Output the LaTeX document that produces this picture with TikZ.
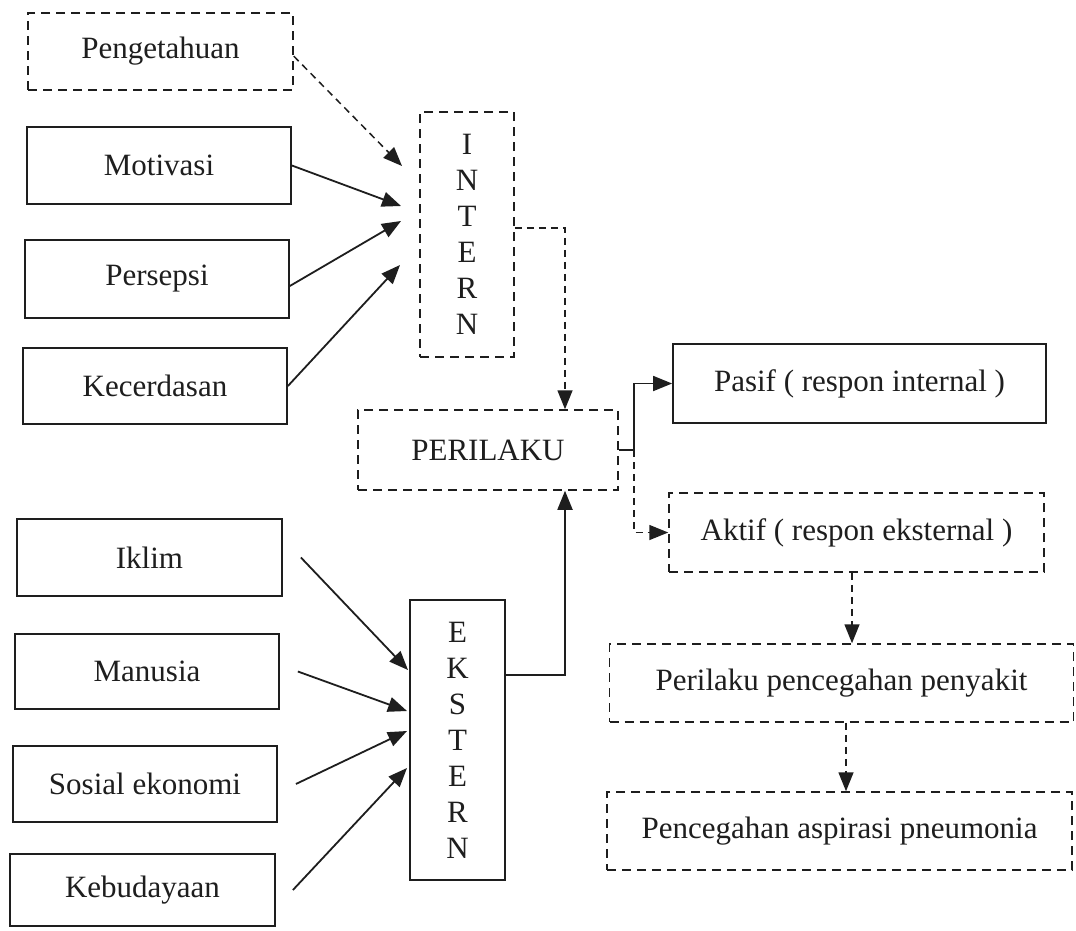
\documentclass[tikz,border=0pt]{standalone}
\usepackage{fontspec}
\setmainfont{Liberation Serif}
\usetikzlibrary{arrows.meta}
\definecolor{ink}{RGB}{30,30,30}
\begin{document}
\begin{tikzpicture}[x=1pt,y=-1pt,
  every node/.style={text=ink, font=\fontsize{31}{36}\selectfont, inner sep=0pt},
  sbox/.style={draw=ink, line width=1.8pt},
  dbox/.style={draw=ink, line width=1.5pt, dash pattern=on 9pt off 6pt},
  arr/.style={draw=ink, line width=1.8pt, -{Triangle[length=19pt,width=15pt]}},
  darr/.style={draw=ink, line width=1.5pt, dash pattern=on 7pt off 5pt, -{Triangle[length=19pt,width=15pt]}},
]
\useasboundingbox[fill=white] (0,0) rectangle (1076,930);

% upper left
\node[dbox, minimum width=265pt, minimum height=77pt] (peng) at (160.5,51.5) {Pengetahuan};
\node[sbox, minimum width=264pt, minimum height=77pt] (motiv) at (159,165.5) {Motivasi};
\node[sbox, minimum width=264pt, minimum height=78pt] (persep) at (157,279) {Persepsi};
\node[sbox, minimum width=264pt, minimum height=76pt] (kecer) at (155,386) {Kecerdasan};

% lower left
\node[sbox, minimum width=265pt, minimum height=77pt] (iklim) at (149.5,557.5) {Iklim};
\node[sbox, minimum width=264pt, minimum height=75pt] (manusia) at (147,671.5) {Manusia};
\node[sbox, minimum width=264pt, minimum height=76pt] (sosial) at (145,784) {Sosial ekonomi};
\node[sbox, minimum width=265pt, minimum height=72pt] (kebud) at (142.5,890) {Kebudayaan};

% middle
\node[dbox, minimum width=94pt, minimum height=245pt, align=center] (intern) at (467,234.5) {I\\N\\T\\E\\R\\N};
\node[sbox, minimum width=95pt, minimum height=280pt, align=center] (ekstern) at (457.5,740) {E\\K\\S\\T\\E\\R\\N};
\node[dbox, minimum width=260pt, minimum height=80pt] (perilaku) at (488,450) {PERILAKU};

% right
\node[sbox, minimum width=373pt, minimum height=79pt] (pasif) at (859.5,383.5) {Pasif ( respon internal )};
\node[dbox, minimum width=375pt, minimum height=79pt] (aktif) at (856.5,532.5) {Aktif ( respon eksternal )};
\node[dbox, minimum width=464pt, minimum height=78pt] (pps) at (841.5,683) {Perilaku pencegahan penyakit};
\node[dbox, minimum width=465pt, minimum height=78pt] (pap) at (839.5,831) {Pencegahan aspirasi pneumonia};

% free ends and columns
\coordinate (ti1) at (402,166);
\coordinate (ti2) at (401,206);
\coordinate (ti3) at (401,221);
\coordinate (ti4) at (400,265);
\coordinate (te1) at (408,670);
\coordinate (te2) at (407,711);
\coordinate (te3) at (407,731);
\coordinate (te4) at (407,768);
\coordinate (colP) at (565,0);
\coordinate (colQ) at (634,0);
\coordinate (colR) at (852,0);
\coordinate (colS) at (846,0);

% arrows into INTERN
\draw[darr] (peng.-2) -- (ti1);
\draw[arr] (motiv.east) -- (ti2);
\draw[arr] (persep.-3) -- (ti3);
\draw[arr] (kecer.east) -- (ti4);

% arrows into EKSTERN
\draw[arr] ([xshift=18pt]iklim.east) -- (te1);
\draw[arr] ([xshift=18pt]manusia.east) -- (te2);
\draw[arr] ([xshift=18pt]sosial.east) -- (te3);
\draw[arr] ([xshift=17pt]kebud.east) -- (te4);

% into PERILAKU
\draw[darr] ([yshift=6.5pt]intern.east) -| (perilaku.north -| colP);
\draw[arr] ([yshift=65pt]ekstern.east) -| (perilaku.south -| colP);

% out of PERILAKU
\draw[arr] (perilaku.east) -| (colQ |- pasif.west) -- (pasif.west);
\draw[darr] (perilaku.east -| colQ) |- (aktif.west);

% right chain
\draw[darr] (aktif.south -| colR) -- (pps.north -| colR);
\draw[darr] (pps.south -| colS) -- (pap.north -| colS);
\end{tikzpicture}
\end{document}
